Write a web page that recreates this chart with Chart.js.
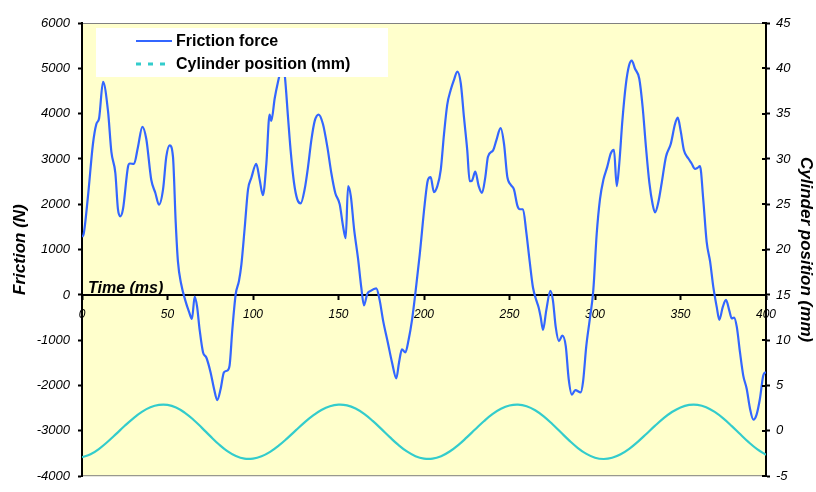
<!DOCTYPE html>
<html>
<head>
<meta charset="utf-8">
<script src="https://cdn.jsdelivr.net/npm/chart.js@4/dist/chart.umd.min.js"></script>
<style>
  body { margin: 0; background: #fff; }
  canvas { display: block; }
</style>
</head>
<body>
<canvas id="frictionChart" width="816" height="492"></canvas>
<script>
// friction force samples (time in ms, force in N)
const frictionTime = [
  0, 1, 3.5, 6.4, 8.4, 10, 12.3, 15.2, 17.2, 19.5, 21, 22.4, 24, 26.9, 28, 30.4, 32.7, 35.3, 37.6, 40.5,
  42.9, 45, 47.4, 49.3, 51.3, 53.2, 54.8, 56.1, 58, 60.4, 62.6, 64.3, 65.9, 67.3, 68.8, 70.8, 72.7, 75.2, 77.2, 79.1,
  81.1, 83, 84.9, 86.3, 87.9, 89.9, 91.8, 93.2, 95.1, 97.1, 99, 101.9, 103.9, 105.8, 107.8, 109.7, 110.7, 112.7, 114.6, 116.6,
  117.6, 118.7, 120.5, 122, 124, 125.9, 127.9, 130.2, 132.2, 134.1, 136.1, 138.4, 140.9, 143.5, 145.8, 148.1, 150.7, 152.6, 154.2, 155.6,
  157.2, 159.1, 161.4, 163.3, 164.9, 166.8, 168.8, 172.1, 174.1, 176, 178.9, 181.3, 183.8, 185.4, 187.1, 189.1, 191, 193, 194.9, 197.5,
  200.4, 202.3, 203.9, 205.8, 207.8, 209.8, 211.7, 213.6, 215.6, 217.5, 219.5, 221.5, 223.4, 225.3, 226.7, 228, 230, 232, 233.9, 235.9,
  237.4, 240.4, 242.3, 244.8, 246.8, 248.7, 250.7, 252.6, 254.6, 256, 257.9, 259.8, 261.8, 263.7, 265.7, 267, 268.2, 269.6, 271.5, 273.9,
  275.4, 277, 278.9, 280.9, 282.9, 284.6, 286.5, 288.5, 291.6, 293, 294.9, 296.9, 299, 301, 302.9, 304.9, 307.2, 309.2, 311.1, 312.7,
  314.2, 316, 318, 319.9, 321.5, 323.4, 325.9, 327.9, 329.8, 331.8, 333.7, 335.1, 337, 339, 341.5, 344.3, 346.8, 348.4, 350.1, 352,
  354.6, 356.5, 358.5, 359.8, 361.4, 363.3, 365.3, 367.3, 369.2, 371.2, 372.7, 374.7, 376.6, 378.5, 380, 381.3, 382.9, 384.8, 386.7, 388.7,
  390.6, 392.6, 394.5, 396.5, 398.4, 400
];
const frictionForce = [
  1280, 1350, 2180, 3330, 3770, 3900, 4700, 4060, 3150, 2690, 1900, 1735, 1900, 2830, 2900, 2890, 3260, 3710, 3440, 2540,
  2250, 1990, 2330, 3050, 3300, 3050, 1600, 740, 240, -120, -375, -530, -35, -260, -770, -1270, -1380, -1710, -2070, -2320,
  -2070, -1710, -1670, -1560, -770, 20, 310, 670, 1460, 2330, 2580, 2890, 2540, 2200, 2890, 3980, 3840, 4340, 4700, 5000,
  5080, 4800, 3910, 3190, 2470, 2110, 2020, 2330, 2830, 3410, 3840, 3980, 3770, 3260, 2690, 2250, 2000, 1530, 1250, 2400,
  2180, 1460, 810, 170, -230, 20, 90, 145, -120, -550, -1060, -1490, -1840, -1490, -1200, -1270, -990, -550, 20, 890,
  2000, 2540, 2600, 2270, 2400, 2760, 3550, 4200, 4520, 4740, 4930, 4670, 3910, 3190, 2510, 2520, 2720, 2400, 2250, 2610,
  3050, 3190, 3410, 3680, 3330, 2610, 2430, 2330, 1970, 1890, 1890, 1390, 740, 170, -120, -270, -480, -770, -340, 90,
  -120, -700, -1020, -900, -1130, -1850, -2200, -2100, -2150, -1920, -1130, -550, 100, 1350, 2110, 2540, 2830, 3120, 3200, 2400,
  2900, 3840, 4630, 5060, 5170, 4990, 4770, 4130, 3260, 2470, 2000, 1820, 2040, 2470, 3050, 3330, 3770, 3910, 3620, 3190,
  3010, 2900, 2780, 2800, 2840, 2110, 1170, 740, 170, -270, -550, -270, -110, -340, -520, -500, -700, -1270, -1780, -2070,
  -2500, -2750, -2640, -2280, -1780, -1700
];

// cylinder position, every 5 ms (mm)
const cylinderTime = [
  0, 5, 10, 15, 20, 25, 30, 35, 40, 45, 50, 55, 60, 65, 70, 75, 80, 85, 90, 95,
  100, 105, 110, 115, 120, 125, 130, 135, 140, 145, 150, 155, 160, 165, 170, 175, 180, 185, 190, 195,
  200, 205, 210, 215, 220, 225, 230, 235, 240, 245, 250, 255, 260, 265, 270, 275, 280, 285, 290, 295,
  300, 305, 310, 315, 320, 325, 330, 335, 340, 345, 350, 355, 360, 365, 370, 375, 380, 385, 390, 395, 400
];
const cylinderPos = [
  -2.9, -2.58, -1.98, -1.2, -0.33, 0.56, 1.39, 2.09, 2.6, 2.86, 2.86, 2.58, 2.02, 1.26, 0.36, -0.58, -1.48, -2.24, -2.78, -3.07,
  -3.06, -2.8, -2.31, -1.63, -0.82, 0.05, 0.91, 1.68, 2.3, 2.72, 2.89, 2.81, 2.46, 1.87, 1.1, 0.22, -0.69, -1.55, -2.27, -2.79,
  -3.06, -3.07, -2.8, -2.28, -1.57, -0.72, 0.18, 1.06, 1.84, 2.43, 2.8, 2.9, 2.72, 2.27, 1.6, 0.76, -0.16, -1.07, -1.89, -2.54,
  -2.96, -3.1, -2.97, -2.58, -1.98, -1.21, -0.34, 0.55, 1.38, 2.08, 2.59, 2.86, 2.87, 2.61, 2.09, 1.38, 0.53, -0.38, -1.27, -2.04, -2.64
];

const seriesNames = ['Friction force', 'Cylinder position (mm)'];
const frictionTicks = { min: -4000, max: 6000, step: 1000 };
const positionTicks = { min: -5, max: 45, step: 5 };
const timeTicks = { min: 0, max: 400, step: 50 };

const BLUE = '#3366FF';
const TEAL = '#33CCCC';
const PLOT_BG = '#FFFFCC';
const FONT = 'Arial, "Liberation Sans", sans-serif';

Chart.defaults.font.family = FONT;
Chart.defaults.color = '#000';

const plainNumber = v => String(v); // no thousands separator

// yellow plot background + grey top/bottom frame
const plotFrame = {
  id: 'plotFrame',
  beforeDraw(chart) {
    const { ctx, chartArea: a } = chart;
    ctx.save();
    ctx.fillStyle = PLOT_BG;
    ctx.fillRect(a.left, a.top, a.right - a.left, a.bottom - a.top);
    ctx.strokeStyle = '#808080';
    ctx.lineWidth = 1;
    ctx.beginPath();
    ctx.moveTo(a.left, a.top + 0.5);
    ctx.lineTo(a.right, a.top + 0.5);
    ctx.moveTo(a.left, a.bottom - 0.5);
    ctx.lineTo(a.right, a.bottom - 0.5);
    ctx.stroke();
    ctx.restore();
  },
  // right axis ticks cross the axis line, so add the inner half
  afterDraw(chart) {
    const { ctx } = chart;
    const s = chart.scales.y1;
    ctx.save();
    ctx.strokeStyle = '#000';
    ctx.lineWidth = 2;
    ctx.beginPath();
    s.ticks.forEach(t => {
      const py = Math.round(s.getPixelForValue(t.value));
      ctx.moveTo(s.left - 4, py);
      ctx.lineTo(s.left, py);
    });
    ctx.stroke();
    ctx.restore();
  }
};

// legend box inside the plot, plus the "Time (ms)" label on the zero line
const insideLegend = {
  id: 'insideLegend',
  afterDatasetsDraw(chart) {
    const { ctx } = chart;
    ctx.save();
    ctx.fillStyle = '#fff';
    ctx.fillRect(96, 28, 292, 49);

    ctx.lineWidth = 2;
    ctx.strokeStyle = BLUE;
    ctx.beginPath();
    ctx.moveTo(136, 41);
    ctx.lineTo(172, 41);
    ctx.stroke();

    ctx.lineWidth = 3;
    ctx.strokeStyle = TEAL;
    ctx.setLineDash([5, 7]);
    ctx.beginPath();
    ctx.moveTo(136, 64);
    ctx.lineTo(172, 64);
    ctx.stroke();
    ctx.setLineDash([]);

    ctx.fillStyle = '#000';
    ctx.font = 'bold 16px ' + FONT;
    ctx.textBaseline = 'middle';
    ctx.textAlign = 'left';
    ctx.fillText(seriesNames[0], 176, 42);
    ctx.fillText(seriesNames[1], 176, 65);

    ctx.font = 'italic bold 16px ' + FONT;
    ctx.fillText('Time (ms)', 88, 289);
    ctx.restore();
  }
};

const ctx = document.getElementById('frictionChart').getContext('2d');

new Chart(ctx, {
  type: 'line',
  data: {
    datasets: [
      {
        label: seriesNames[0],
        data: frictionTime.map((t, i) => ({ x: t, y: frictionForce[i] })),
        borderColor: BLUE,
        borderWidth: 2.2,
        pointRadius: 0,
        cubicInterpolationMode: 'monotone',
        yAxisID: 'y',
        order: 2
      },
      {
        label: seriesNames[1],
        data: cylinderTime.map((t, i) => ({ x: t, y: cylinderPos[i] })),
        borderColor: TEAL,
        borderWidth: 2.2,
        pointRadius: 0,
        tension: 0.4,
        yAxisID: 'y1',
        order: 1
      }
    ]
  },
  options: {
    responsive: false,
    animation: false,
    layout: { padding: { top: 23, bottom: 5, left: 0, right: 0 } },
    plugins: {
      legend: { display: false },
      tooltip: { enabled: false }
    },
    scales: {
      x: {
        type: 'linear',
        position: { y: 0 },
        min: timeTicks.min,
        max: timeTicks.max,
        ticks: {
          stepSize: timeTicks.step,
          maxRotation: 0,
          padding: 9,
          callback: plainNumber,
          font: { size: 12, style: 'italic' }
        },
        grid: { drawOnChartArea: false, tickLength: 4, tickColor: '#000', tickWidth: 2 },
        border: { color: '#000', width: 2 },
        afterFit: scale => { scale.height = 0; }
      },
      y: {
        position: 'left',
        min: frictionTicks.min,
        max: frictionTicks.max,
        ticks: {
          stepSize: frictionTicks.step,
          padding: 8,
          callback: plainNumber,
          font: { size: 13, style: 'italic' }
        },
        grid: { drawOnChartArea: false, tickLength: 4, tickColor: '#000', tickWidth: 2 },
        border: { color: '#000', width: 2 },
        title: {
          display: true,
          text: 'Friction (N)',
          font: { size: 17, style: 'italic', weight: 'bold' },
          padding: { top: 10, bottom: 0 }
        },
        afterFit: scale => { scale.width = 82; }
      },
      y1: {
        position: 'right',
        min: positionTicks.min,
        max: positionTicks.max,
        ticks: {
          stepSize: positionTicks.step,
          padding: 6,
          callback: plainNumber,
          font: { size: 13, style: 'italic' }
        },
        grid: { drawOnChartArea: false, tickLength: 4, tickColor: '#000', tickWidth: 2 },
        border: { color: '#000', width: 2 },
        title: {
          display: true,
          text: 'Cylinder position (mm)',
          font: { size: 17, style: 'italic', weight: 'bold' },
          padding: { top: 0, bottom: 0 }
        },
        afterFit: scale => { scale.width = 50; }
      }
    }
  },
  plugins: [plotFrame, insideLegend]
});
</script>
</body>
</html>
